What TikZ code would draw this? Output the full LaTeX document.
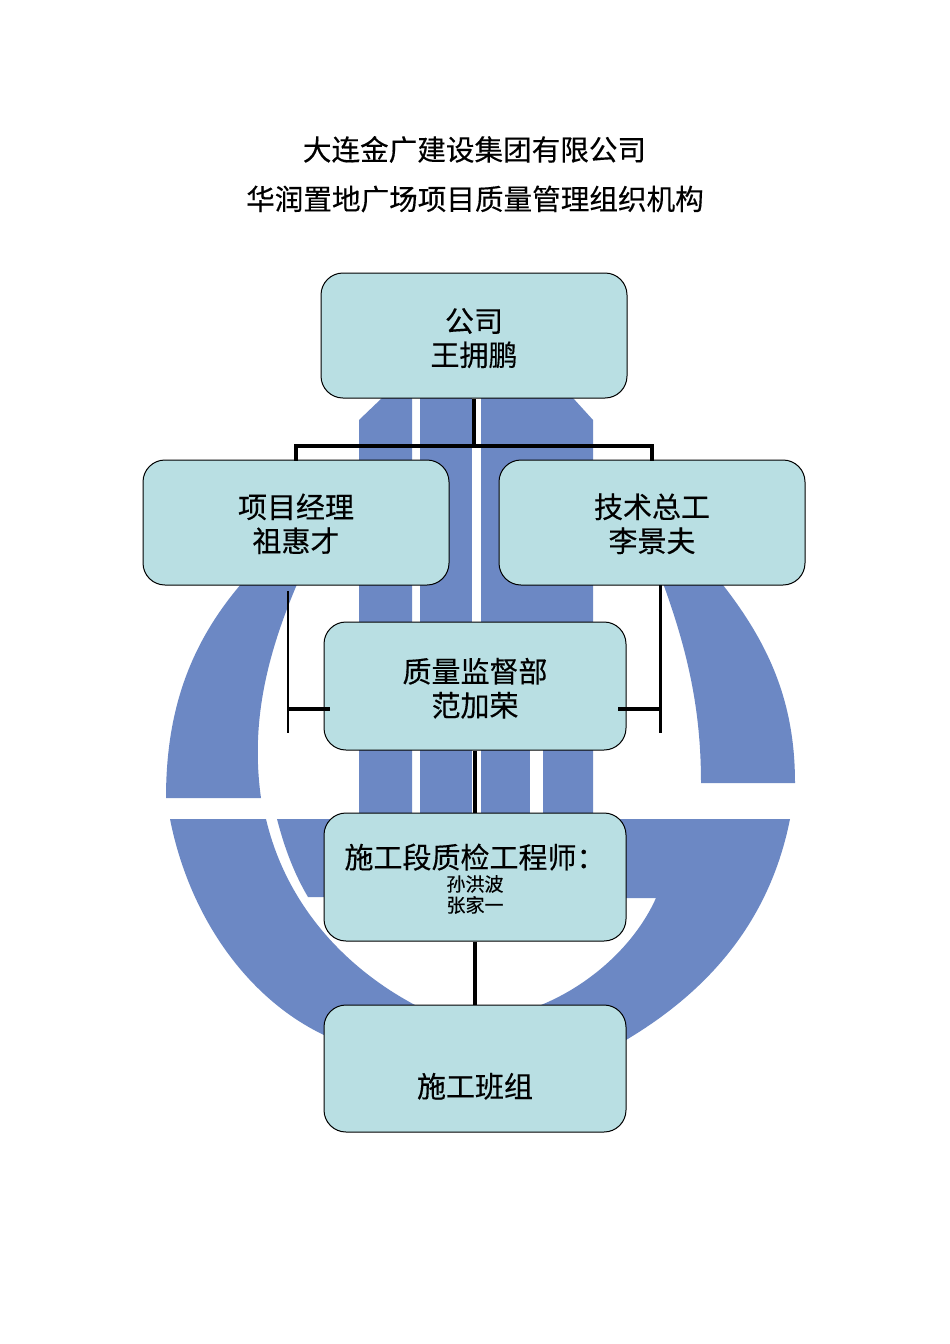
\documentclass[tikz,border=0pt]{standalone}
\usepackage{fontspec}
\setmainfont[FakeBold=0.3]{Noto Sans CJK SC}
\definecolor{logoblue}{HTML}{6C88C4}
\definecolor{boxfill}{HTML}{B9DFE3}
\tikzset{
  orgbox/.style={draw=black,line width=1pt,fill=boxfill,rounded corners=22pt,inner sep=0pt,
    align=center,minimum width=#1,font=\fontsize{29}{34}\selectfont},
  conn/.style={draw=black,line width=3.2pt},
  connthin/.style={draw=black,line width=2.8pt},
  logopart/.style={fill=logoblue,draw=none},
  titletext/.style={inner sep=0pt,font=\fontsize{28.6}{34}\selectfont}
}
\newcommand{\smalltxt}[1]{{\fontsize{19}{21}\selectfont #1}}
\newcommand{\topgap}[1]{\rule{0pt}{#1pt}}
\begin{document}
\begin{tikzpicture}[x=1pt,y=-1pt]
\useasboundingbox (0,0) rectangle (950,1344);
\fill[white] (0,0) rectangle (950,1344);
% logo: vertical bars
\fill[logopart] (359,420) -- (382,398) -- (412,398) -- (412,830) -- (359,830) -- cycle;
\fill[logopart] (420,390) rectangle (472,830);
\fill[logopart] (481,390) -- (573,398) -- (593,420) -- (593,830) -- (481,830) -- cycle;
\fill[white] (530,680) rectangle (543,830);
% logo: upper arcs
\fill[logopart] (166,798) .. controls (166,710) and (190,640) .. (249,575)
  -- (301,575) .. controls (268,650) and (250,720) .. (261,798) -- cycle;
\fill[logopart] (795,783) .. controls (795,700) and (768,640) .. (715,575)
  -- (660,575) .. controls (688,650) and (701,710) .. (701,783) -- cycle;
% logo: lower ring
\fill[logopart] (170,819) .. controls (190,920) and (250,1000) .. (324,1035)
  -- (415,1035) -- (415,1005) .. controls (340,965) and (285,900) .. (266,819) -- cycle;
\fill[logopart] (277,819) .. controls (285,850) and (295,875) .. (308,897) -- (400,897) -- (400,819) -- cycle;
\fill[logopart] (790,819) .. controls (770,920) and (710,990) .. (626,1040)
  -- (541,1040) -- (541,1005) .. controls (590,985) and (635,945) .. (656,898)
  -- (550,898) -- (550,819) -- cycle;
% title
\node[titletext] (t1) at (474.5,149.5) {大连金广建设集团有限公司};
\node[titletext] (t2) at (475,199) {华润置地广场项目质量管理组织机构};
% connector junctions
\coordinate (bus) at (474,446);
\coordinate (lt) at (288,591);
\coordinate (lm) at (288,709);
\coordinate (lb) at (288,733);
\coordinate (la) at (330,709);
\coordinate (rt) at (660.5,585);
\coordinate (rm) at (660.5,709);
\coordinate (rb) at (660.5,733);
\coordinate (ra) at (618,709);
% boxes
\node[orgbox=306pt,minimum height=125pt] (co) at (474,335.5) {\topgap{29}公司\\王拥鹏};
\node[orgbox=306pt,minimum height=125pt] (pm) at (296,522.5) {\topgap{27}项目经理\\祖惠才};
\node[orgbox=306pt,minimum height=125pt] (te) at (652,522.5) {\topgap{27}技术总工\\李景夫};
\node[orgbox=302pt,minimum height=128pt] (qa) at (475,686) {\topgap{29}质量监督部\\范加荣};
\node[orgbox=302pt,minimum height=128pt] (se) at (475,877) {\topgap{28}施工段质检工程师：\\[-11pt]\smalltxt{孙洪波}\\[-13pt]\smalltxt{张家一}};
\node[orgbox=302pt,minimum height=127pt] (cr) at (475,1068.5) {\topgap{60}施工班组};
% connectors
\draw[conn] (co.south) -- (bus);
\draw[conn,line cap=rect] (pm.north) |- (bus) -| (te.north);
\draw[connthin] (lt) -- (lb);
\draw[conn] (lm) -- (la);
\draw[connthin] (rt) -- (rb);
\draw[conn] (rm) -- (ra);
\draw[conn] (qa.south) -- (se.north);
\draw[conn] (se.south) -- (cr.north);
\end{tikzpicture}
\end{document}
